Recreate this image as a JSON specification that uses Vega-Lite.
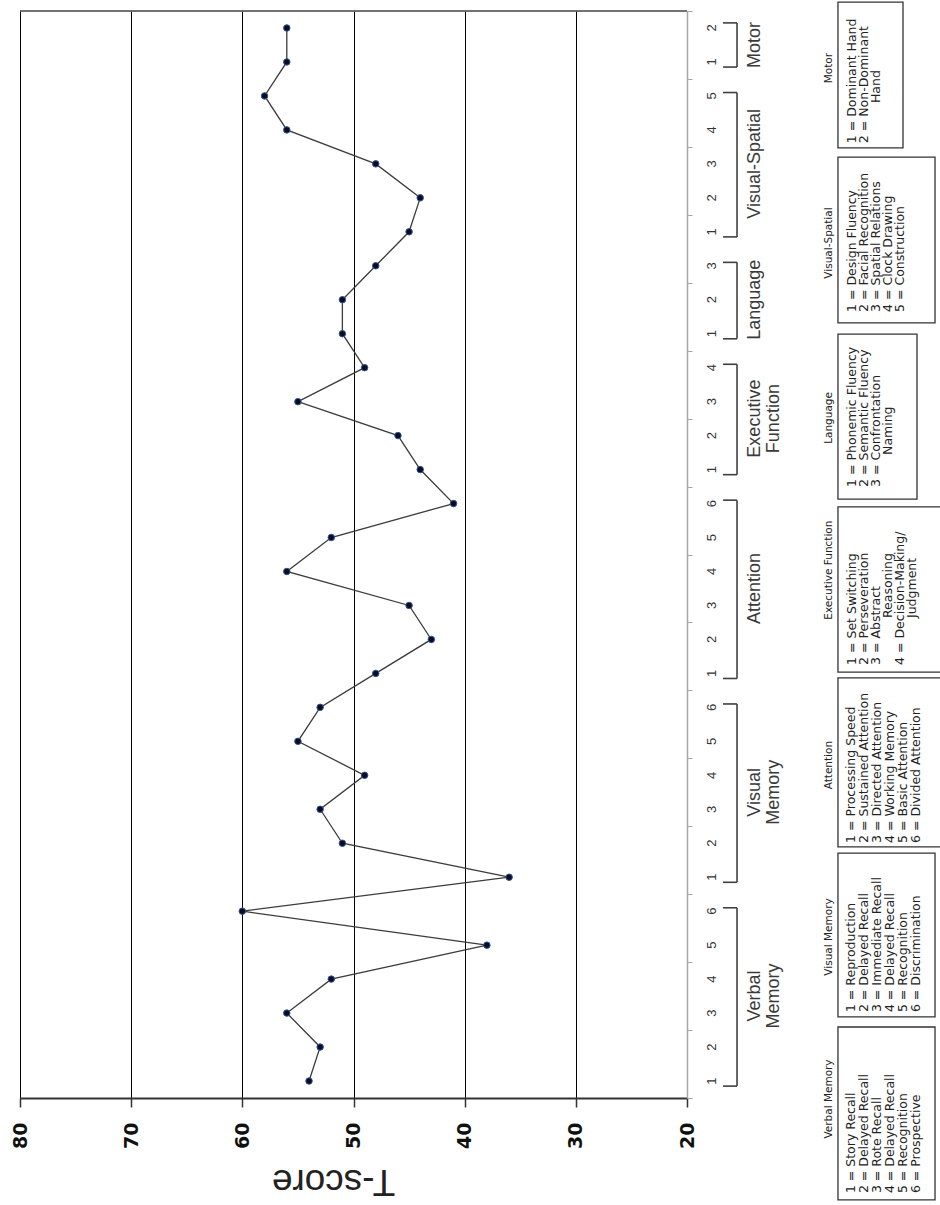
{
  "$schema": "https://vega.github.io/schema/vega-lite/v6.json",
  "width": 667,
  "height": 1087,
  "autosize": {"type": "none"},
  "padding": {"left": 20, "top": 11, "right": 253, "bottom": 107},
  "background": "white",
  "config": {"view": {"stroke": null}},
  "datasets": {
    "scores": [
      {"idx": 1, "group": "Verbal Memory", "test": "1", "score": 54},
      {"idx": 2, "group": "Verbal Memory", "test": "2", "score": 53},
      {"idx": 3, "group": "Verbal Memory", "test": "3", "score": 56},
      {"idx": 4, "group": "Verbal Memory", "test": "4", "score": 52},
      {"idx": 5, "group": "Verbal Memory", "test": "5", "score": 38},
      {"idx": 6, "group": "Verbal Memory", "test": "6", "score": 60},
      {"idx": 7, "group": "Visual Memory", "test": "1", "score": 36},
      {"idx": 8, "group": "Visual Memory", "test": "2", "score": 51},
      {"idx": 9, "group": "Visual Memory", "test": "3", "score": 53},
      {"idx": 10, "group": "Visual Memory", "test": "4", "score": 49},
      {"idx": 11, "group": "Visual Memory", "test": "5", "score": 55},
      {"idx": 12, "group": "Visual Memory", "test": "6", "score": 53},
      {"idx": 13, "group": "Attention", "test": "1", "score": 48},
      {"idx": 14, "group": "Attention", "test": "2", "score": 43},
      {"idx": 15, "group": "Attention", "test": "3", "score": 45},
      {"idx": 16, "group": "Attention", "test": "4", "score": 56},
      {"idx": 17, "group": "Attention", "test": "5", "score": 52},
      {"idx": 18, "group": "Attention", "test": "6", "score": 41},
      {"idx": 19, "group": "Executive Function", "test": "1", "score": 44},
      {"idx": 20, "group": "Executive Function", "test": "2", "score": 46},
      {"idx": 21, "group": "Executive Function", "test": "3", "score": 55},
      {"idx": 22, "group": "Executive Function", "test": "4", "score": 49},
      {"idx": 23, "group": "Language", "test": "1", "score": 51},
      {"idx": 24, "group": "Language", "test": "2", "score": 51},
      {"idx": 25, "group": "Language", "test": "3", "score": 48},
      {"idx": 26, "group": "Visual-Spatial", "test": "1", "score": 45},
      {"idx": 27, "group": "Visual-Spatial", "test": "2", "score": 44},
      {"idx": 28, "group": "Visual-Spatial", "test": "3", "score": 48},
      {"idx": 29, "group": "Visual-Spatial", "test": "4", "score": 56},
      {"idx": 30, "group": "Visual-Spatial", "test": "5", "score": 58},
      {"idx": 31, "group": "Motor", "test": "1", "score": 56},
      {"idx": 32, "group": "Motor", "test": "2", "score": 56}
    ],
    "frame": [
      {"left": 80, "right": 20, "top": 32.5}
    ],
    "brackets": [
      {"group": "Verbal Memory", "label": "Verbal\nMemory", "bottom": 0.85, "top": 6.1, "mid": 3.5, "hookX": 16.76, "barX": 15.5, "labelX": 14.69},
      {"group": "Visual Memory", "label": "Visual\nMemory", "bottom": 6.85, "top": 12.1, "mid": 9.5, "hookX": 16.76, "barX": 15.5, "labelX": 14.69},
      {"group": "Attention", "label": "Attention", "bottom": 12.85, "top": 18.1, "mid": 15.5, "hookX": 16.76, "barX": 15.5, "labelX": 14.69},
      {"group": "Executive Function", "label": "Executive\nFunction", "bottom": 18.85, "top": 22.1, "mid": 20.5, "hookX": 16.76, "barX": 15.5, "labelX": 14.69},
      {"group": "Language", "label": "Language", "bottom": 22.85, "top": 25.1, "mid": 24, "hookX": 16.76, "barX": 15.5, "labelX": 14.69},
      {"group": "Visual-Spatial", "label": "Visual-Spatial", "bottom": 25.85, "top": 30.1, "mid": 28, "hookX": 16.76, "barX": 15.5, "labelX": 14.69},
      {"group": "Motor", "label": "Motor", "bottom": 30.85, "top": 32.15, "mid": 31.5, "hookX": 16.76, "barX": 15.5, "labelX": 14.69}
    ],
    "boxes": [
      {"group": "Motor", "top": 32.76, "bottom": 28.47, "left": 6.42, "right": 0.57, "titleX": 7.23, "titleMid": 30.82},
      {"group": "Visual-Spatial", "top": 28.2, "bottom": 23.32, "left": 6.42, "right": -2.31, "titleX": 7.23, "titleMid": 25.67},
      {"group": "Language", "top": 22.99, "bottom": 18.13, "left": 6.42, "right": -0.69, "titleX": 7.23, "titleMid": 20.52},
      {"group": "Executive Function", "top": 17.9, "bottom": 13.04, "left": 6.42, "right": -3.21, "titleX": 7.23, "titleMid": 16.04},
      {"group": "Attention", "top": 12.87, "bottom": 7.89, "left": 6.42, "right": -3.21, "titleX": 7.23, "titleMid": 10.3},
      {"group": "Visual Memory", "top": 7.71, "bottom": 2.89, "left": 6.42, "right": -2.31, "titleX": 7.23, "titleMid": 5.24},
      {"group": "Verbal Memory", "top": 2.59, "bottom": -2.5, "left": 6.42, "right": -2.31, "titleX": 7.23, "titleMid": 0.47}
    ],
    "legendText": [
      {"group": "Motor", "slot": 5.16, "start": 28.61, "text": "1 = Dominant Hand"},
      {"group": "Motor", "slot": 4.08, "start": 28.61, "text": "2 = Non-Dominant"},
      {"group": "Motor", "slot": 3.0, "start": 29.79, "text": "Hand"},
      {"group": "Visual-Spatial", "slot": 5.16, "start": 23.64, "text": "1 = Design Fluency"},
      {"group": "Visual-Spatial", "slot": 4.08, "start": 23.64, "text": "2 = Facial Recognition"},
      {"group": "Visual-Spatial", "slot": 3.0, "start": 23.64, "text": "3 = Spatial Relations"},
      {"group": "Visual-Spatial", "slot": 1.92, "start": 23.64, "text": "4 = Clock Drawing"},
      {"group": "Visual-Spatial", "slot": 0.84, "start": 23.64, "text": "5 = Construction"},
      {"group": "Language", "slot": 5.16, "start": 18.49, "text": "1 = Phonemic Fluency"},
      {"group": "Language", "slot": 4.08, "start": 18.49, "text": "2 = Semantic Fluency"},
      {"group": "Language", "slot": 3.0, "start": 18.49, "text": "3 = Confrontation"},
      {"group": "Language", "slot": 1.92, "start": 19.43, "text": "Naming"},
      {"group": "Executive Function", "slot": 5.16, "start": 13.25, "text": "1 = Set Switching"},
      {"group": "Executive Function", "slot": 4.08, "start": 13.25, "text": "2 = Perseveration"},
      {"group": "Executive Function", "slot": 3.0, "start": 13.25, "text": "3 = Abstract"},
      {"group": "Executive Function", "slot": 1.92, "start": 14.63, "text": "Reasoning"},
      {"group": "Executive Function", "slot": 0.84, "start": 13.25, "text": "4 = Decision-Making/"},
      {"group": "Executive Function", "slot": -0.24, "start": 14.63, "text": "Judgment"},
      {"group": "Attention", "slot": 5.25, "start": 8.01, "text": "1 = Processing Speed"},
      {"group": "Attention", "slot": 4.08, "start": 8.01, "text": "2 = Sustained Attention"},
      {"group": "Attention", "slot": 2.91, "start": 8.01, "text": "3 = Directed Attention"},
      {"group": "Attention", "slot": 1.74, "start": 8.01, "text": "4 = Working Memory"},
      {"group": "Attention", "slot": 0.57, "start": 8.01, "text": "5 = Basic Attention"},
      {"group": "Attention", "slot": -0.6, "start": 8.01, "text": "6 = Divided Attention"},
      {"group": "Visual Memory", "slot": 5.25, "start": 3.03, "text": "1 = Reproduction"},
      {"group": "Visual Memory", "slot": 4.08, "start": 3.03, "text": "2 = Delayed Recall"},
      {"group": "Visual Memory", "slot": 2.91, "start": 3.03, "text": "3 = Immediate Recall"},
      {"group": "Visual Memory", "slot": 1.74, "start": 3.03, "text": "4 = Delayed Recall"},
      {"group": "Visual Memory", "slot": 0.57, "start": 3.03, "text": "5 = Recognition"},
      {"group": "Visual Memory", "slot": -0.6, "start": 3.03, "text": "6 = Discrimination"},
      {"group": "Verbal Memory", "slot": 5.25, "start": -2.3, "text": "1 = Story Recall"},
      {"group": "Verbal Memory", "slot": 4.08, "start": -2.3, "text": "2 = Delayed Recall"},
      {"group": "Verbal Memory", "slot": 2.91, "start": -2.3, "text": "3 = Rote Recall"},
      {"group": "Verbal Memory", "slot": 1.74, "start": -2.3, "text": "4 = Delayed Recall"},
      {"group": "Verbal Memory", "slot": 0.57, "start": -2.3, "text": "5 = Recognition"},
      {"group": "Verbal Memory", "slot": -0.6, "start": -2.3, "text": "6 = Prospective"}
    ]
  },
  "layer": [
    {
      "data": {"name": "scores"},
      "mark": {"type": "line", "color": "#3c3c3c", "strokeWidth": 1.3},
      "encoding": {
        "y": {
          "field": "idx", "type": "quantitative",
          "scale": {"domain": [0.5, 32.5], "nice": false, "zero": false},
          "axis": {
            "orient": "right", "title": null, "grid": false, "zindex": 1,
            "values": [0.5, 1.5, 2.5, 3.5, 4.5, 5.5, 6.5, 7.5, 8.5, 9.5, 10.5, 11.5, 12.5, 13.5, 14.5, 15.5, 16.5, 17.5, 18.5, 19.5, 20.5, 21.5, 22.5, 23.5, 24.5, 25.5, 26.5, 27.5, 28.5, 29.5, 30.5, 31.5, 32.5],
            "labels": false,
            "tickSize": 5, "tickColor": "#a6a6a6", "tickWidth": 1,
            "domainColor": "#a6a6a6", "domainWidth": 1.5
          }
        },
        "x": {
          "field": "score", "type": "quantitative",
          "scale": {"domain": [80, 20], "nice": false, "zero": false},
          "axis": {
            "values": [80, 70, 60, 50, 40, 30, 20],
            "grid": true, "gridColor": "#000000", "gridWidth": 1,
            "domain": true, "domainColor": "#333333", "domainWidth": 2,
            "ticks": true, "tickColor": "#333333", "tickSize": 9, "tickWidth": 1.5,
            "labelAngle": 270, "labelAlign": "right", "labelBaseline": "middle",
            "labelPadding": 15, "labelFont": "DejaVu Sans", "labelFontWeight": "bold",
            "labelFontSize": 19, "labelColor": "#111111", "labelFlush": false, "labelBound": false,
            "labelOverlap": false,
            "title": "T-score", "titleAngle": 180, "titleFont": "Liberation Sans",
            "titleFontSize": 37, "titleFontWeight": "normal", "titleColor": "#222222",
            "titleX": 313, "titleY": 82, "titleAlign": "center", "titleBaseline": "middle"
          }
        },
        "order": {"field": "idx", "type": "quantitative"}
      }
    },
    {
      "data": {"name": "scores"},
      "mark": {"type": "point", "filled": true, "size": 42, "color": "#0b0b22", "stroke": "#2f5597", "strokeWidth": 1, "opacity": 1},
      "encoding": {
        "y": {"field": "idx", "type": "quantitative"},
        "x": {"field": "score", "type": "quantitative"}
      }
    },
    {
      "data": {"name": "scores"},
      "mark": {"type": "text", "angle": 270, "align": "center", "baseline": "middle", "font": "Liberation Sans", "fontSize": 13, "color": "#333333"},
      "encoding": {
        "y": {"field": "idx", "type": "quantitative"},
        "x": {"datum": 17.75, "type": "quantitative"},
        "text": {"field": "test"}
      }
    },
    {
      "data": {"name": "frame"},
      "mark": {"type": "rule", "color": "#444444", "strokeWidth": 1.5},
      "encoding": {
        "x": {"field": "left", "type": "quantitative"},
        "x2": {"field": "right"},
        "y": {"field": "top", "type": "quantitative"}
      }
    },
    {
      "data": {"name": "brackets"},
      "mark": {"type": "rule", "color": "#404040", "strokeWidth": 1.6},
      "encoding": {
        "x": {"field": "barX", "type": "quantitative"},
        "y": {"field": "bottom", "type": "quantitative"},
        "y2": {"field": "top"}
      }
    },
    {
      "data": {"name": "brackets"},
      "mark": {"type": "rule", "color": "#404040", "strokeWidth": 1.6},
      "encoding": {
        "x": {"field": "hookX", "type": "quantitative"},
        "x2": {"field": "barX"},
        "y": {"field": "bottom", "type": "quantitative"}
      }
    },
    {
      "data": {"name": "brackets"},
      "mark": {"type": "rule", "color": "#404040", "strokeWidth": 1.6},
      "encoding": {
        "x": {"field": "hookX", "type": "quantitative"},
        "x2": {"field": "barX"},
        "y": {"field": "top", "type": "quantitative"}
      }
    },
    {
      "data": {"name": "brackets"},
      "mark": {"type": "text", "angle": 270, "align": "center", "baseline": "top", "lineBreak": "\n", "lineHeight": 19, "font": "Liberation Sans", "fontSize": 18, "color": "#3a3a3a"},
      "encoding": {
        "x": {"field": "labelX", "type": "quantitative"},
        "y": {"field": "mid", "type": "quantitative"},
        "text": {"field": "label"}
      }
    },
    {
      "data": {"name": "boxes"},
      "mark": {"type": "rect", "fill": "white", "stroke": "#333333", "strokeWidth": 1.3},
      "encoding": {
        "x": {"field": "left", "type": "quantitative"},
        "x2": {"field": "right"},
        "y": {"field": "top", "type": "quantitative"},
        "y2": {"field": "bottom"}
      }
    },
    {
      "data": {"name": "boxes"},
      "mark": {"type": "text", "angle": 270, "align": "center", "baseline": "middle", "font": "DejaVu Sans", "fontSize": 10.5, "color": "#222222"},
      "encoding": {
        "x": {"field": "titleX", "type": "quantitative"},
        "y": {"field": "titleMid", "type": "quantitative"},
        "text": {"field": "group"}
      }
    },
    {
      "data": {"name": "legendText"},
      "mark": {"type": "text", "angle": 270, "align": "left", "baseline": "middle", "font": "DejaVu Sans", "fontSize": 12.5, "color": "#222222"},
      "encoding": {
        "x": {"field": "slot", "type": "quantitative"},
        "y": {"field": "start", "type": "quantitative"},
        "text": {"field": "text"}
      }
    }
  ]
}
